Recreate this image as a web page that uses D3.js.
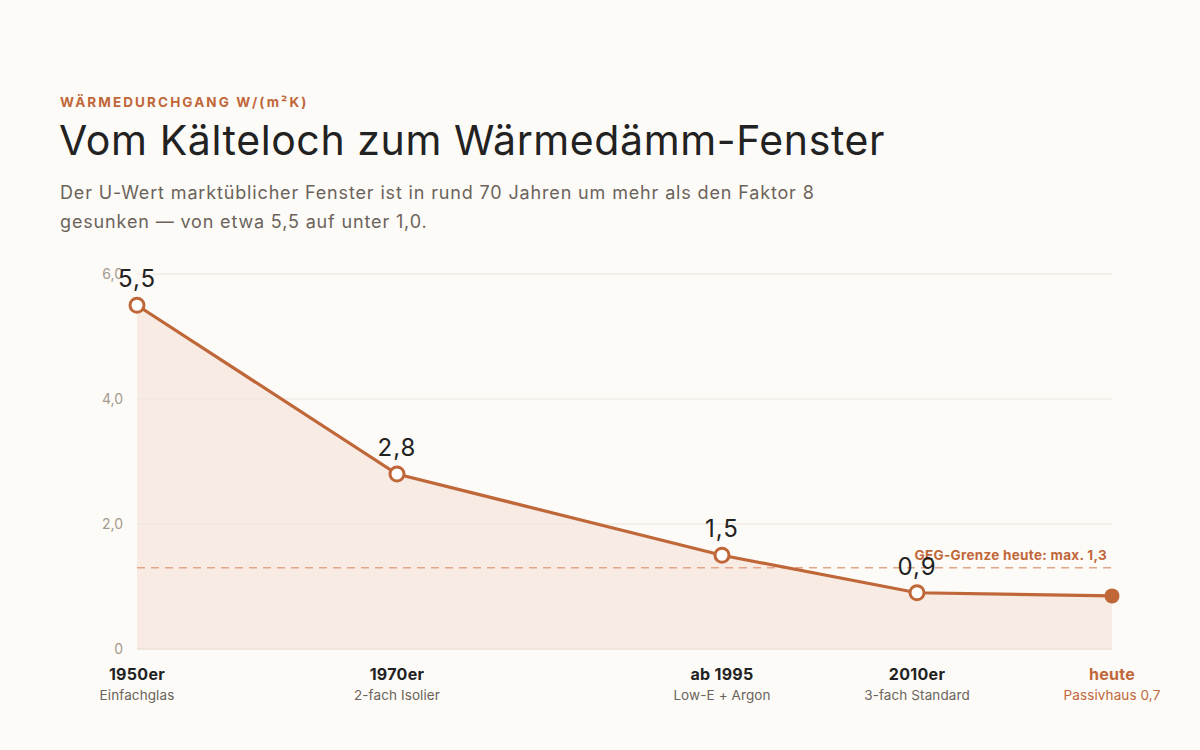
<!DOCTYPE html>
<html><head><meta charset="utf-8">
<script src="https://cdn.jsdelivr.net/npm/d3@7"></script>
<style>
body{margin:0;background:#fdfbf7;}
svg{display:block;}
text{font-family:Inter,"Noto Sans",sans-serif;}
</style></head>
<body><svg id="c" width="1200" height="750"></svg>
<script>
const years = [1950, 1970, 1995, 2010, 2025];
const periods = ["1950er", "1970er", "ab 1995", "2010er", "heute"];
const subLabels = ["Einfachglas", "2-fach Isolier", "Low-E + Argon", "3-fach Standard", "Passivhaus 0,7"];
const uValues = [5.5, 2.8, 1.5, 0.9, 0.85];
const valueLabels = ["5,5", "2,8", "1,5", "0,9", ""];
const yTicks = [0, 2, 4, 6];
const yTickLabels = ["0", "2,0", "4,0", "6,0"];
const gegLimit = 1.3;
const gegLabel = "GEG-Grenze heute: max. 1,3";

const accent = "#c0673a";
const svg = d3.select("#c");
svg.append("rect").attr("width",1200).attr("height",750).attr("fill","#fdfbf7");

// header
svg.append("text").attr("x",60).attr("y",107).attr("fill",accent)
  .attr("font-size",13.5).attr("font-weight",700).attr("letter-spacing",2.1)
  .text("WÄRMEDURCHGANG W/(m²K)");
svg.append("text").attr("x",59).attr("y",155).attr("fill","#222")
  .attr("font-size",41).attr("font-weight",400).attr("letter-spacing",0.6)
  .text("Vom Kälteloch zum Wärmedämm-Fenster");
svg.append("text").attr("x",60).attr("y",199).attr("fill","#6b635b").attr("font-size",18).attr("letter-spacing",0.85)
  .text("Der U-Wert marktüblicher Fenster ist in rund 70 Jahren um mehr als den Faktor 8");
svg.append("text").attr("x",60).attr("y",228).attr("fill","#6b635b").attr("font-size",18).attr("letter-spacing",0.85)
  .text("gesunken — von etwa 5,5 auf unter 1,0.");

const x = d3.scaleLinear().domain([1950, 2025]).range([137, 1112]);
const y = d3.scaleLinear().domain([0, 6]).range([649, 274]);

const data = years.map((yr,i)=>({yr, v:uValues[i], i}));

// area
svg.append("path").datum(data)
  .attr("d", d3.area().x(d=>x(d.yr)).y0(y(0)).y1(d=>y(d.v)))
  .attr("fill","#f7ebe3");

// grid
const g = svg.append("g");
g.selectAll("line").data(yTicks).join("line")
  .attr("x1",x(1950)).attr("x2",x(2025))
  .attr("y1",d=>y(d)).attr("y2",d=>y(d))
  .attr("stroke",d=>d===0?"#ebe2d6":"#ece6dc").attr("stroke-width",d=>d===0?1.5:1);
g.selectAll("text").data(yTicks).join("text")
  .attr("x",123).attr("y",d=>y(d)+5).attr("text-anchor","end")
  .attr("fill","#a39a8f").attr("font-size",14)
  .text((d,i)=>yTickLabels[i]);

// GEG line
svg.append("line").attr("x1",x(1950)).attr("x2",x(2025))
  .attr("y1",y(gegLimit)).attr("y2",y(gegLimit))
  .attr("stroke","#e3a688").attr("stroke-width",1.5).attr("stroke-dasharray","8,6");
svg.append("text").attr("x",x(2025)-5).attr("y",y(gegLimit)-8).attr("text-anchor","end")
  .attr("fill",accent).attr("font-size",13.5).attr("font-weight",700).attr("letter-spacing",0.3).text(gegLabel);

// line
svg.append("path").datum(data)
  .attr("d", d3.line().x(d=>x(d.yr)).y(d=>y(d.v)))
  .attr("fill","none").attr("stroke",accent).attr("stroke-width",3.2);

// markers
svg.selectAll("circle.m").data(data).join("circle")
  .attr("cx",d=>x(d.yr)).attr("cy",d=>y(d.v))
  .attr("r",d=>d.i===4?7.5:7)
  .attr("fill",d=>d.i===4?accent:"#fff")
  .attr("stroke",accent).attr("stroke-width",d=>d.i===4?0:3);

// value labels
svg.selectAll("text.v").data(data.filter(d=>valueLabels[d.i])).join("text")
  .attr("x",d=>x(d.yr)).attr("y",d=>y(d.v)-18).attr("text-anchor","middle")
  .attr("fill","#222").attr("font-size",24).attr("letter-spacing",1).text(d=>valueLabels[d.i]);

// x labels
svg.selectAll("text.p").data(data).join("text")
  .attr("x",d=>x(d.yr)).attr("y",680).attr("text-anchor","middle")
  .attr("fill",d=>d.i===4?accent:"#222").attr("font-size",16).attr("font-weight",700).attr("letter-spacing",0.3)
  .text(d=>periods[d.i]);
svg.selectAll("text.s").data(data).join("text")
  .attr("x",d=>x(d.yr)).attr("y",700).attr("text-anchor","middle")
  .attr("fill",d=>d.i===4?accent:"#6b635b").attr("font-size",13.5).attr("letter-spacing",0.1)
  .text(d=>subLabels[d.i]);
</script></body></html>
